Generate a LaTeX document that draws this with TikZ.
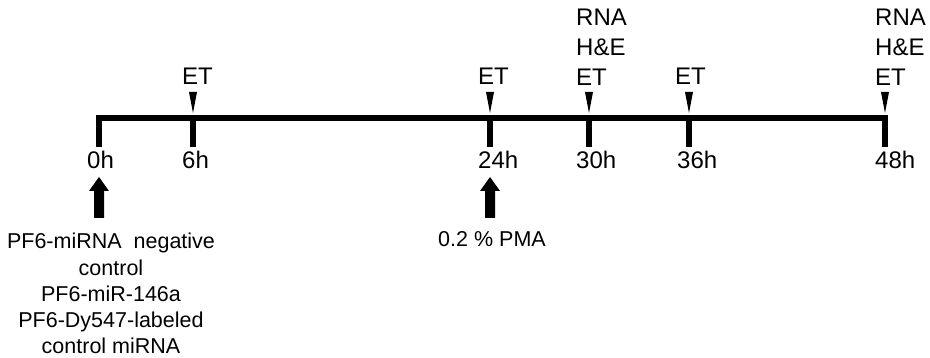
\documentclass[tikz,border=0pt]{standalone}
\usepackage{fontspec}
\setmainfont{Liberation Sans}
\begin{document}
\begin{tikzpicture}[x=1pt,y=-1pt,
  lbl/.style={font=\fontsize{21.5}{26.3}\selectfont, inner sep=0pt},
  biglbl/.style={font=\fontsize{24}{30}\selectfont, inner sep=0pt},
  axisline/.style={line width=6pt, miter limit=10},
  uparrow/.pic={\fill (-5,0) -- (-5,-27) -- (-10,-27) -- (0,-41) -- (10,-27) -- (5,-27) -- (5,0) -- cycle;},
  downmark/.pic={\fill (-4,-26) -- (4,-26) -- (0,-5) -- cycle;}]
\useasboundingbox (0,0) rectangle (930,358);

% time points on the axis and the lower ends of their ticks
\foreach \h/\x in {0/99,6/193,24/490,30/589,36/689,48/885}{
  \coordinate (t\h) at (\x,118);
  \coordinate (b\h) at (\x,147);
}

% axis with end ticks
\draw[axisline] (b0) -- (t0) -- (t48) -- (b48);
% inner ticks
\foreach \h in {6,24,30,36} \draw[axisline] (t\h) -- (b\h);

% sampling markers above the axis
\foreach \h in {6,24,30,36,48} \pic at (t\h) {downmark};

% hour labels
\foreach \h/\x in {0/87,6/182,24/478,30/576,36/677,48/875}
  \node[biglbl, anchor=base west] (h\h) at (\x,169) {\h h};

% ET labels
\foreach \h/\x in {6/182,24/478,36/675}
  \node[biglbl, anchor=base west] (et\h) at (\x,85) {ET};
\node[biglbl, align=left, anchor=north west] (s30) at (576,9) {RNA\\H\&E\\ET};
\node[biglbl, align=left, anchor=north west] (s48) at (875,9) {RNA\\H\&E\\ET};

% treatments
\coordinate (a0) at (99,218);
\coordinate (a24) at (490,218);
\pic at (a0) {uparrow};
\pic at (a24) {uparrow};

\node[lbl, align=center, anchor=north] (agents) at (111,233)
  {PF6-miRNA\ \ negative\\control\\PF6-miR-146a\\PF6-Dy547-labeled\\control miRNA};
\node[lbl, anchor=base] (pma) at (492,247) {0.2 \% PMA};
\end{tikzpicture}
\end{document}
